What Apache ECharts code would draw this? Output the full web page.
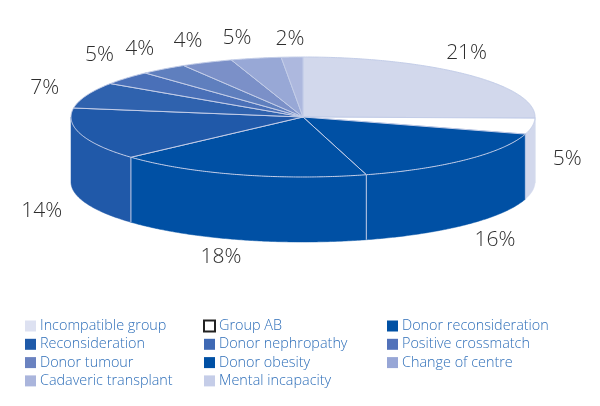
<!DOCTYPE html>
<html><head><meta charset="utf-8">
<style>html,body{margin:0;padding:0;background:#fff}#c{width:600px;height:406px}</style>
<script src="https://cdn.jsdelivr.net/npm/echarts@6/dist/echarts.min.js"></script></head>
<body><div id="c"></div>
<script>
const categories=['Incompatible group','Group AB','Donor reconsideration','Donor obesity','Reconsideration','Donor nephropathy','Positive crossmatch','Donor tumour','Change of centre','Cadaveric transplant','Mental incapacity'];
const percentLabels=['21%','5%','16%','18%','14%','7%','5%','4%','4%','5%','2%'];
// share of the circle each slice actually occupies in the picture
const drawnShare=[25.3,4.3,16,17.7,14.1,7,3.7,3.3,3.6,3.5,1.5];

const legendColumns=[
 ['Incompatible group','Reconsideration','Donor tumour','Cadaveric transplant'],
 ['Group AB','Donor nephropathy','Donor obesity','Mental incapacity'],
 ['Donor reconsideration','Positive crossmatch','Change of centre']];
const legendX=[25,203,387];
const topColors=['#d2d8ec','#ffffff','#0050a4','#0050a4','#2059a9','#2f62ae','#4a70b8','#5f7fbe','#7b90c8','#98a8d6','#adb8de'];
const wallColors=['#d2d8ec','#d2d8ec','#0050a4','#0050a4','#2059a9','#2f62ae','#4a70b8','#5f7fbe','#7b90c8','#98a8d6','#adb8de'];
const legendColors=['#dde1f1','#ffffff','#0050a4','#0050a4','#1f5aa9','#3f69b4','#5272ba','#6a82c0','#97a6d6','#aab5dc','#c5cde8'];
const labelOffset=[[-2,-22],[35,33],[29,80],[-18,82],[-39,77],[-42,-7],[-27,-23],[-24,-20],[-19,-21],[-19,-20],[-2,-18]];
const CX=303,CY=117,RX=232,RY=60,DEPTH=65,EDGE='#c3cde8',FONT='"Open Sans",sans-serif';
const total=drawnShare.reduce((a,b)=>a+b,0);
const rim=(a,dy=0)=>[CX+RX*Math.sin(a),CY-RY*Math.cos(a)+dy];
const arc=(a0,a1,dy=0)=>{const n=Math.max(2,Math.ceil((a1-a0)/0.01)),p=[];for(let k=0;k<=n;k++)p.push(rim(a0+(a1-a0)*k/n,dy));return p;};
function renderSlice(i){return function(params,api){
  const before=drawnShare.slice(0,i).reduce((a,b)=>a+b,0);
  const a0=before/total*2*Math.PI,a1=(before+api.value(0))/total*2*Math.PI;
  const children=[];
  const lo=Math.max(a0,Math.PI/2),hi=Math.min(a1,3*Math.PI/2);
  if(hi>lo){
    const top=arc(lo,hi);
    const bot=arc(lo,hi,DEPTH).reverse();
    children.push({type:'polygon',shape:{points:top.concat(bot)},style:{fill:wallColors[i],stroke:wallColors[i],lineWidth:.5}});
    if(i>1&&a0>=Math.PI/2) children.push({type:'line',shape:{x1:rim(a0)[0],y1:rim(a0)[1],x2:rim(a0)[0],y2:rim(a0)[1]+DEPTH},style:{stroke:EDGE,lineWidth:1}});
  }
  children.push({type:'polygon',shape:{points:[[CX,CY]].concat(arc(a0,a1))},style:{fill:topColors[i],stroke:EDGE,lineWidth:1}});
  const m=rim((a0+a1)/2);
  children.push({type:'text',x:m[0]+labelOffset[i][0],y:m[1]+labelOffset[i][1],style:{text:percentLabels[i],fill:'#2e2e2e',font:'300 21px '+FONT,textAlign:'center',textVerticalAlign:'middle'}});
  return {type:'group',children};
};}
const series=categories.map((name,i)=>({type:'custom',name,coordinateSystem:'none',renderItem:renderSlice(i),
  itemStyle:{color:legendColors[i]},data:[[drawnShare[i]]],z:2+i,silent:true,animation:false}));
const legend=legendColumns.map((names,c)=>({
  left:legendX[c],top:319,orient:'vertical',padding:0,itemGap:4.3,itemWidth:11,itemHeight:11,selectedMode:false,
  textStyle:{color:'#2f6fb9',fontFamily:FONT,fontWeight:300,fontSize:14.4,padding:[0,0,0,-1]},
  data:names.map(n=>n==='Group AB'?{name:n,icon:'rect',itemStyle:{color:'#fff',borderColor:'#222',borderWidth:2}}:{name:n,icon:'rect'})
}));
const chart=echarts.init(document.getElementById('c'),null,{renderer:'canvas'});
chart.setOption({backgroundColor:'#fff',animation:false,legend,series});
</script></body></html>
